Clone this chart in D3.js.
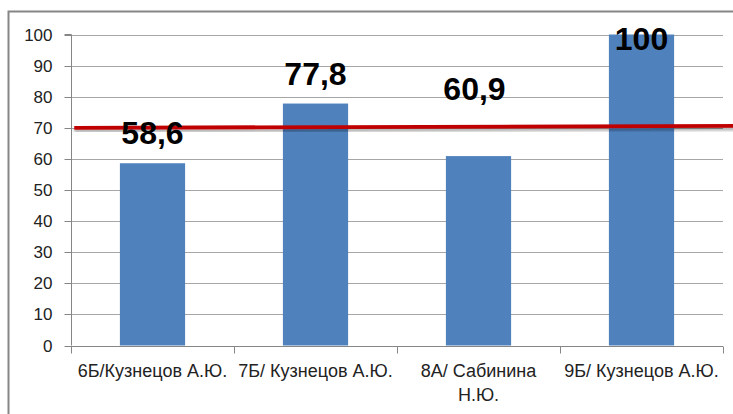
<!DOCTYPE html>
<html><head><meta charset="utf-8">
<script src="https://cdn.jsdelivr.net/npm/d3@7"></script>
<style>body{margin:0;background:#fff;}svg{display:block;}</style>
</head><body>
<svg id="chart" width="733" height="414"></svg>
<script>
const categories = ["6Б/Кузнецов А.Ю.", "7Б/ Кузнецов А.Ю.", "8А/ Сабинина Н.Ю.", "9Б/ Кузнецов А.Ю."];
const values = [58.6, 77.8, 60.9, 100];
const valueLabels = ["58,6", "77,8", "60,9", "100"];
const yTicks = [0, 10, 20, 30, 40, 50, 60, 70, 80, 90, 100];
const targetLine = [70.0, 70.6]; // red reference line: value at start, value at end

const svg = d3.select("#chart");
const W = 733, H = 414;
const m = {left: 71, right: 10, top: 34.5, bottom: 68.5};
const x0 = m.left, x1 = W - m.right, yb = H - m.bottom;

// outer border
svg.append("rect").attr("x", 8.5).attr("y", 11.5).attr("width", W + 20).attr("height", H + 20)
  .attr("fill", "none").attr("stroke", "#868686").attr("stroke-width", 2);

const x = d3.scaleBand().domain(categories).range([x0, x1]).paddingInner(0.6).paddingOuter(0.3);
const y = d3.scaleLinear().domain([0, 100]).range([yb, m.top]);
const xi = d3.scaleLinear().domain([0, categories.length]).range([x0, x1]);

const fontAxis = "'Liberation Sans', Arial, sans-serif";

// gridlines
svg.append("g").selectAll("line").data(yTicks.filter(d => d > 0)).join("line")
  .attr("x1", x0).attr("x2", x1)
  .attr("y1", d => Math.round(y(d)) + 0.5).attr("y2", d => Math.round(y(d)) + 0.5)
  .attr("stroke", "#a6a6a6").attr("stroke-width", 1);

// y axis
const yAxis = svg.append("g").attr("transform", `translate(${x0 + 0.5},0)`)
  .call(d3.axisLeft(y).tickValues(yTicks).tickSize(7).tickPadding(12).tickFormat(d3.format("d")));
yAxis.select(".domain").attr("stroke", "#868686").attr("d", `M-7,${y(100)}H0V${yb}`);
yAxis.selectAll(".tick line").attr("stroke", "#868686");
yAxis.selectAll(".tick text").attr("font-family", fontAxis).attr("font-size", 17).attr("fill", "#222");
yAxis.selectAll(".tick").attr("transform", d => `translate(0,${Math.round(y(d)) + 0.5})`);

// bars
svg.append("g").selectAll("rect").data(values).join("rect")
  .attr("x", (d, i) => x(categories[i])).attr("width", x.bandwidth())
  .attr("y", d => y(d)).attr("height", d => yb - y(d))
  .attr("fill", "#4f81bd");

// x axis
const xAxisY = Math.round(yb) + 0.5;
const xa = svg.append("g");
xa.append("line").attr("x1", x0).attr("x2", x1).attr("y1", xAxisY).attr("y2", xAxisY).attr("stroke", "#868686");
xa.selectAll("line.t").data(d3.range(categories.length + 1)).join("line").attr("class", "t")
  .attr("x1", d => Math.round(xi(d)) + 0.5).attr("x2", d => Math.round(xi(d)) + 0.5)
  .attr("y1", xAxisY).attr("y2", xAxisY + 7).attr("stroke", "#868686");

const xLines = [["6Б/Кузнецов А.Ю."], ["7Б/ Кузнецов А.Ю."], ["8А/ Сабинина", "Н.Ю."], ["9Б/ Кузнецов А.Ю."]];
xLines.forEach((lines, i) => {
  const cx = x(categories[i]) + x.bandwidth() / 2;
  const t = xa.append("text").attr("x", cx).attr("y", yb + 31.5)
    .attr("text-anchor", "middle").attr("font-family", fontAxis).attr("font-size", 18).attr("fill", "#222");
  lines.forEach((l, j) => t.append("tspan").attr("x", cx).attr("dy", j ? 24 : 0).text(l));
});

// red reference line with shadow
const defs = svg.append("defs");
const f = defs.append("filter").attr("id", "sh").attr("x", "-5%").attr("y", "-200%").attr("width", "110%").attr("height", "500%");
f.append("feDropShadow").attr("dx", 0).attr("dy", 2.5).attr("stdDeviation", 1.5).attr("flood-color", "#000").attr("flood-opacity", 0.35);
const lineSpan = [0.02, 4.1];
svg.append("line")
  .attr("x1", xi(lineSpan[0])).attr("x2", xi(lineSpan[1]))
  .attr("y1", y(targetLine[0])).attr("y2", y(targetLine[0]) + (y(targetLine[1]) - y(targetLine[0])) * (lineSpan[1] - lineSpan[0]) / (4.07 - lineSpan[0]))
  .attr("stroke", "#c00000").attr("stroke-width", 3.8).attr("filter", "url(#sh)");

// value labels
const labelDy = [-19, -19, -56, 15];
const labelDx = [0, 0, -4, 0];
svg.append("g").selectAll("text").data(values).join("text")
  .attr("x", (d, i) => x(categories[i]) + x.bandwidth() / 2 + labelDx[i])
  .attr("y", (d, i) => y(d) + labelDy[i])
  .attr("text-anchor", "middle").attr("font-family", fontAxis).attr("font-weight", "bold")
  .attr("font-size", 32).attr("fill", "#000")
  .text((d, i) => valueLabels[i]);
</script>
</body></html>
